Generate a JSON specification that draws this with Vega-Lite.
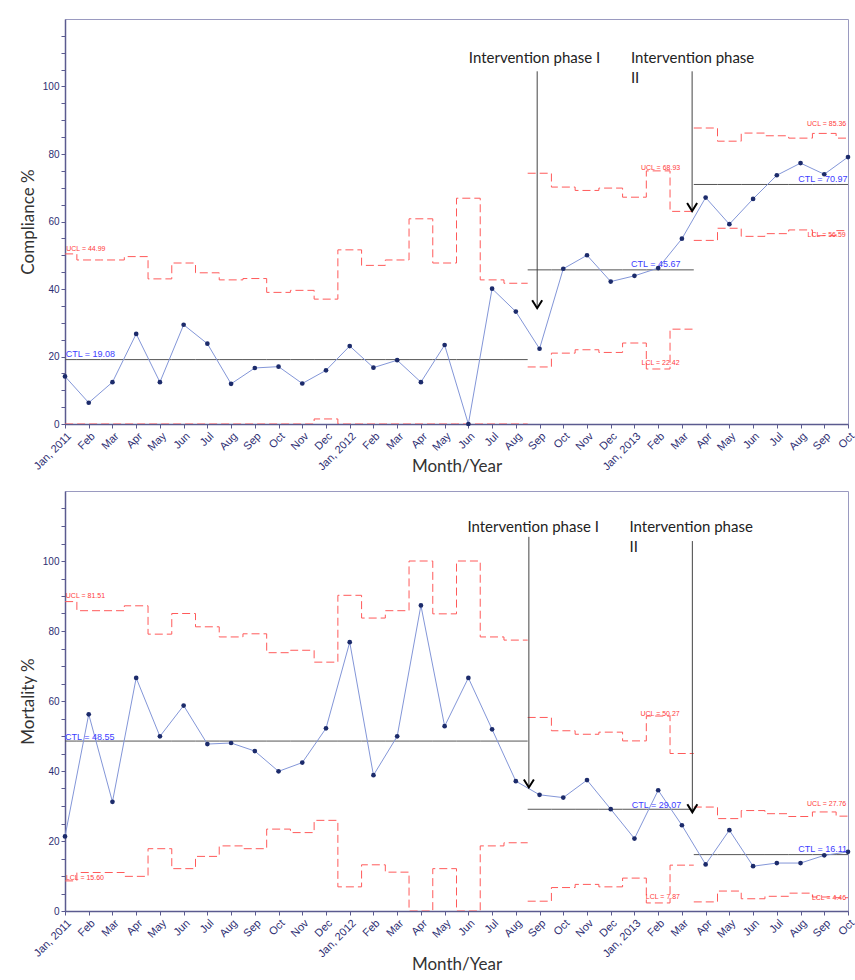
{
  "$schema": "https://vega.github.io/schema/vega-lite/v6.json",
  "padding": {"left": 18, "top": 18, "right": 4, "bottom": 2},
  "spacing": 14,
  "config": {
    "view": {"stroke": "#9a9ac0", "strokeWidth": 1},
    "axis": {
      "labelFont": "Liberation Sans",
      "labelColor": "#2e2e72",
      "domainColor": "#5b5b8f",
      "domainWidth": 1.5,
      "tickColor": "#5b5b8f",
      "titleFont": "Lato",
      "titleFontWeight": "normal",
      "titleColor": "#333333",
      "grid": false,
      "zindex": 1,
      "labelOverlap": false,
      "labelFlush": false
    }
  },
  "datasets": {
    "compliance": [
      {"i": 0, "month": "2011-01", "value": 14.1, "phase": "Baseline", "ucl": 50.4, "lcl": 0, "ctl": 19.08},
      {"i": 1, "month": "2011-02", "value": 6.3, "phase": "Baseline", "ucl": 48.6, "lcl": 0, "ctl": 19.08},
      {"i": 2, "month": "2011-03", "value": 12.4, "phase": "Baseline", "ucl": 48.6, "lcl": 0, "ctl": 19.08},
      {"i": 3, "month": "2011-04", "value": 26.7, "phase": "Baseline", "ucl": 49.6, "lcl": 0, "ctl": 19.08},
      {"i": 4, "month": "2011-05", "value": 12.4, "phase": "Baseline", "ucl": 43.0, "lcl": 0, "ctl": 19.08},
      {"i": 5, "month": "2011-06", "value": 29.4, "phase": "Baseline", "ucl": 47.7, "lcl": 0, "ctl": 19.08},
      {"i": 6, "month": "2011-07", "value": 23.8, "phase": "Baseline", "ucl": 44.8, "lcl": 0, "ctl": 19.08},
      {"i": 7, "month": "2011-08", "value": 11.9, "phase": "Baseline", "ucl": 42.7, "lcl": 0, "ctl": 19.08},
      {"i": 8, "month": "2011-09", "value": 16.6, "phase": "Baseline", "ucl": 43.1, "lcl": 0, "ctl": 19.08},
      {"i": 9, "month": "2011-10", "value": 17.0, "phase": "Baseline", "ucl": 39.0, "lcl": 0, "ctl": 19.08},
      {"i": 10, "month": "2011-11", "value": 12.0, "phase": "Baseline", "ucl": 39.6, "lcl": 0, "ctl": 19.08},
      {"i": 11, "month": "2011-12", "value": 15.9, "phase": "Baseline", "ucl": 37.0, "lcl": 1.5, "ctl": 19.08},
      {"i": 12, "month": "2012-01", "value": 23.1, "phase": "Baseline", "ucl": 51.6, "lcl": 0, "ctl": 19.08},
      {"i": 13, "month": "2012-02", "value": 16.7, "phase": "Baseline", "ucl": 47.0, "lcl": 0, "ctl": 19.08},
      {"i": 14, "month": "2012-03", "value": 18.9, "phase": "Baseline", "ucl": 48.6, "lcl": 0, "ctl": 19.08},
      {"i": 15, "month": "2012-04", "value": 12.4, "phase": "Baseline", "ucl": 60.8, "lcl": 0, "ctl": 19.08},
      {"i": 16, "month": "2012-05", "value": 23.4, "phase": "Baseline", "ucl": 47.7, "lcl": 0, "ctl": 19.08},
      {"i": 17, "month": "2012-06", "value": 0.0, "phase": "Baseline", "ucl": 66.9, "lcl": 0, "ctl": 19.08},
      {"i": 18, "month": "2012-07", "value": 40.1, "phase": "Baseline", "ucl": 42.7, "lcl": 0, "ctl": 19.08},
      {"i": 19, "month": "2012-08", "value": 33.3, "phase": "Baseline", "ucl": 41.7, "lcl": 0, "ctl": 19.08},
      {"i": 20, "month": "2012-09", "value": 22.3, "phase": "Phase I", "ucl": 74.3, "lcl": 16.9, "ctl": 45.67},
      {"i": 21, "month": "2012-10", "value": 46.0, "phase": "Phase I", "ucl": 70.2, "lcl": 21.0, "ctl": 45.67},
      {"i": 22, "month": "2012-11", "value": 50.0, "phase": "Phase I", "ucl": 69.2, "lcl": 22.0, "ctl": 45.67},
      {"i": 23, "month": "2012-12", "value": 42.2, "phase": "Phase I", "ucl": 69.9, "lcl": 21.2, "ctl": 45.67},
      {"i": 24, "month": "2013-01", "value": 43.9, "phase": "Phase I", "ucl": 67.2, "lcl": 24.0, "ctl": 45.67},
      {"i": 25, "month": "2013-02", "value": 46.2, "phase": "Phase I", "ucl": 75.0, "lcl": 16.3, "ctl": 45.67},
      {"i": 26, "month": "2013-03", "value": 54.9, "phase": "Phase I", "ucl": 63.0, "lcl": 28.1, "ctl": 45.67},
      {"i": 27, "month": "2013-04", "value": 67.1, "phase": "Phase II", "ucl": 87.7, "lcl": 54.4, "ctl": 70.97},
      {"i": 28, "month": "2013-05", "value": 59.2, "phase": "Phase II", "ucl": 83.8, "lcl": 58.0, "ctl": 70.97},
      {"i": 29, "month": "2013-06", "value": 66.7, "phase": "Phase II", "ucl": 86.2, "lcl": 55.6, "ctl": 70.97},
      {"i": 30, "month": "2013-07", "value": 73.7, "phase": "Phase II", "ucl": 85.4, "lcl": 56.4, "ctl": 70.97},
      {"i": 31, "month": "2013-08", "value": 77.3, "phase": "Phase II", "ucl": 84.7, "lcl": 57.5, "ctl": 70.97},
      {"i": 32, "month": "2013-09", "value": 74.0, "phase": "Phase II", "ucl": 86.1, "lcl": 55.8, "ctl": 70.97},
      {"i": 33, "month": "2013-10", "value": 79.1, "phase": "Phase II", "ucl": 84.7, "lcl": 57.3, "ctl": 70.97}
    ],
    "mortality": [
      {"i": 0, "month": "2011-01", "value": 21.3, "phase": "Baseline", "ucl": 88.4, "lcl": 8.6, "ctl": 48.55},
      {"i": 1, "month": "2011-02", "value": 56.2, "phase": "Baseline", "ucl": 85.8, "lcl": 11.0, "ctl": 48.55},
      {"i": 2, "month": "2011-03", "value": 31.2, "phase": "Baseline", "ucl": 85.8, "lcl": 11.0, "ctl": 48.55},
      {"i": 3, "month": "2011-04", "value": 66.6, "phase": "Baseline", "ucl": 87.2, "lcl": 9.9, "ctl": 48.55},
      {"i": 4, "month": "2011-05", "value": 49.9, "phase": "Baseline", "ucl": 79.1, "lcl": 17.8, "ctl": 48.55},
      {"i": 5, "month": "2011-06", "value": 58.7, "phase": "Baseline", "ucl": 85.0, "lcl": 12.1, "ctl": 48.55},
      {"i": 6, "month": "2011-07", "value": 47.7, "phase": "Baseline", "ucl": 81.2, "lcl": 15.6, "ctl": 48.55},
      {"i": 7, "month": "2011-08", "value": 48.0, "phase": "Baseline", "ucl": 78.3, "lcl": 18.6, "ctl": 48.55},
      {"i": 8, "month": "2011-09", "value": 45.7, "phase": "Baseline", "ucl": 79.2, "lcl": 17.8, "ctl": 48.55},
      {"i": 9, "month": "2011-10", "value": 39.9, "phase": "Baseline", "ucl": 73.8, "lcl": 23.4, "ctl": 48.55},
      {"i": 10, "month": "2011-11", "value": 42.4, "phase": "Baseline", "ucl": 74.5, "lcl": 22.4, "ctl": 48.55},
      {"i": 11, "month": "2011-12", "value": 52.2, "phase": "Baseline", "ucl": 71.1, "lcl": 25.9, "ctl": 48.55},
      {"i": 12, "month": "2012-01", "value": 76.8, "phase": "Baseline", "ucl": 90.2, "lcl": 6.9, "ctl": 48.55},
      {"i": 13, "month": "2012-02", "value": 38.8, "phase": "Baseline", "ucl": 83.7, "lcl": 13.2, "ctl": 48.55},
      {"i": 14, "month": "2012-03", "value": 49.9, "phase": "Baseline", "ucl": 85.8, "lcl": 11.1, "ctl": 48.55},
      {"i": 15, "month": "2012-04", "value": 87.3, "phase": "Baseline", "ucl": 100, "lcl": 0, "ctl": 48.55},
      {"i": 16, "month": "2012-05", "value": 52.8, "phase": "Baseline", "ucl": 84.9, "lcl": 12.1, "ctl": 48.55},
      {"i": 17, "month": "2012-06", "value": 66.6, "phase": "Baseline", "ucl": 100, "lcl": 0, "ctl": 48.55},
      {"i": 18, "month": "2012-07", "value": 51.9, "phase": "Baseline", "ucl": 78.3, "lcl": 18.6, "ctl": 48.55},
      {"i": 19, "month": "2012-08", "value": 37.1, "phase": "Baseline", "ucl": 77.4, "lcl": 19.5, "ctl": 48.55},
      {"i": 20, "month": "2012-09", "value": 33.2, "phase": "Phase I", "ucl": 55.3, "lcl": 2.8, "ctl": 29.07},
      {"i": 21, "month": "2012-10", "value": 32.4, "phase": "Phase I", "ucl": 51.5, "lcl": 6.7, "ctl": 29.07},
      {"i": 22, "month": "2012-11", "value": 37.4, "phase": "Phase I", "ucl": 50.5, "lcl": 7.6, "ctl": 29.07},
      {"i": 23, "month": "2012-12", "value": 29.1, "phase": "Phase I", "ucl": 51.1, "lcl": 6.9, "ctl": 29.07},
      {"i": 24, "month": "2013-01", "value": 20.7, "phase": "Phase I", "ucl": 48.6, "lcl": 9.4, "ctl": 29.07},
      {"i": 25, "month": "2013-02", "value": 34.5, "phase": "Phase I", "ucl": 55.7, "lcl": 2.3, "ctl": 29.07},
      {"i": 26, "month": "2013-03", "value": 24.5, "phase": "Phase I", "ucl": 45.0, "lcl": 13.1, "ctl": 29.07},
      {"i": 27, "month": "2013-04", "value": 13.3, "phase": "Phase II", "ucl": 29.7, "lcl": 2.6, "ctl": 16.11},
      {"i": 28, "month": "2013-05", "value": 23.1, "phase": "Phase II", "ucl": 26.4, "lcl": 5.7, "ctl": 16.11},
      {"i": 29, "month": "2013-06", "value": 12.8, "phase": "Phase II", "ucl": 28.7, "lcl": 3.5, "ctl": 16.11},
      {"i": 30, "month": "2013-07", "value": 13.7, "phase": "Phase II", "ucl": 27.8, "lcl": 4.2, "ctl": 16.11},
      {"i": 31, "month": "2013-08", "value": 13.7, "phase": "Phase II", "ucl": 27.0, "lcl": 5.1, "ctl": 16.11},
      {"i": 32, "month": "2013-09", "value": 15.9, "phase": "Phase II", "ucl": 28.3, "lcl": 4.0, "ctl": 16.11},
      {"i": 33, "month": "2013-10", "value": 16.9, "phase": "Phase II", "ucl": 27.1, "lcl": 3.8, "ctl": 16.11}
    ],
    "labelsTop": [
      {"x": 0.88, "y": 51.9, "text": "UCL = 44.99", "kind": "limit"},
      {"x": 25.1, "y": 75.9, "text": "UCL = 68.93", "kind": "limit"},
      {"x": 25.1, "y": 18.2, "text": "LCL = 22.42", "kind": "limit"},
      {"x": 32.1, "y": 88.9, "text": "UCL = 85.36", "kind": "limit"},
      {"x": 32.1, "y": 55.9, "text": "LCL = 56.59", "kind": "limit"},
      {"x": 1.07, "y": 20.6, "text": "CTL = 19.08", "kind": "ctl"},
      {"x": 24.9, "y": 47.5, "text": "CTL = 45.67", "kind": "ctl"},
      {"x": 31.94, "y": 72.5, "text": "CTL = 70.97", "kind": "ctl"},
      {"x": 17.02, "y": 108.4, "text": "Intervention phase I", "kind": "note"},
      {"x": 23.85, "y": 108.4, "text": "Intervention phase", "kind": "note"},
      {"x": 23.85, "y": 102.5, "text": "II", "kind": "note"}
    ],
    "labelsBottom": [
      {"x": 0.86, "y": 89.9, "text": "UCL = 81.51", "kind": "limit"},
      {"x": 0.84, "y": 9.5, "text": "LCL = 15.60", "kind": "limit"},
      {"x": 25.08, "y": 56.4, "text": "UCL = 50.27", "kind": "limit"},
      {"x": 25.2, "y": 3.9, "text": "LCL = 7.87", "kind": "limit"},
      {"x": 32.1, "y": 30.7, "text": "UCL = 27.76", "kind": "limit"},
      {"x": 32.2, "y": 3.7, "text": "LCL = 4.46", "kind": "limit"},
      {"x": 1.04, "y": 49.7, "text": "CTL = 48.55", "kind": "ctl"},
      {"x": 24.93, "y": 30.4, "text": "CTL = 29.07", "kind": "ctl"},
      {"x": 31.93, "y": 17.6, "text": "CTL = 16.11", "kind": "ctl"},
      {"x": 16.96, "y": 109.6, "text": "Intervention phase I", "kind": "note"},
      {"x": 23.79, "y": 109.6, "text": "Intervention phase", "kind": "note"},
      {"x": 23.79, "y": 104.0, "text": "II", "kind": "note"}
    ],
    "arrowsTop": [
      {"x": 19.9, "top": 104.5, "tip": 34.3},
      {"x": 26.43, "top": 104.5, "tip": 63.1}
    ],
    "arrowsBottom": [
      {"x": 19.55, "top": 106.9, "tip": 35.3},
      {"x": 26.44, "top": 105.7, "tip": 28.2}
    ]
  },
  "vconcat": [
    {
      "width": 783,
      "height": 405,
      "layer": [
        {
          "data": {"name": "compliance"},
          "transform": [
            {"bin": {"step": 1, "anchor": -0.5, "extent": [-1, 34]}, "field": "i", "as": ["i0", "i1"]},
            {"fold": ["i0", "i1"], "as": ["edge", "xpos"]},
            {"fold": ["ucl", "lcl"], "as": ["limit", "lv"]}
          ],
          "mark": {"type": "line", "color": "#ff5a5a", "strokeDash": [8, 4], "strokeWidth": 1, "clip": true},
          "encoding": {
            "x": {"field": "xpos", "type": "quantitative", "scale": {"domain": [0, 33], "nice": false, "zero": false},
              "axis": {"values": [0,1,2,3,4,5,6,7,8,9,10,11,12,13,14,15,16,17,18,19,20,21,22,23,24,25,26,27,28,29,30,31,32,33],
                "tickCount": 60,
                "labelExpr": "['Jan','Feb','Mar','Apr','May','Jun','Jul','Aug','Sep','Oct','Nov','Dec'][datum.value % 12] + (datum.value % 12 == 0 ? ', ' + (2011 + floor(datum.value / 12)) : '')",
                "labelOverlap": false, "labelAngle": -45, "labelFontSize": 11, "tickSize": 4, "title": "Month/Year", "titleFontSize": 17, "titlePadding": -13}},
            "y": {"field": "lv", "type": "quantitative", "scale": {"domain": [0, 120], "nice": false},
              "axis": {"values": [0,5,10,15,20,25,30,35,40,45,50,55,60,65,70,75,80,85,90,95,100,105,110,115],
                "tickCount": 60,
                "labelExpr": "datum.value % 20 == 0 && datum.value <= 100 ? datum.value : ''",
                "labelOverlap": false, "labelFontSize": 10, "tickSize": 4, "labelPadding": 2, "title": "Compliance %", "titleFontSize": 17, "titlePadding": 5}},
            "detail": [{"field": "phase", "type": "nominal"}, {"field": "limit", "type": "nominal"}],
            "order": [{"field": "xpos", "type": "quantitative"}, {"field": "i", "type": "quantitative"}]
          }
        },
        {
          "data": {"name": "compliance"},
          "transform": [
            {"bin": {"step": 1, "anchor": -0.5, "extent": [-1, 34]}, "field": "i", "as": ["i0", "i1"]},
            {"fold": ["i0", "i1"], "as": ["edge", "xpos"]}
          ],
          "mark": {"type": "line", "color": "#555555", "strokeWidth": 1, "clip": true},
          "encoding": {
            "x": {"field": "xpos", "type": "quantitative"},
            "y": {"field": "ctl", "type": "quantitative"},
            "detail": {"field": "phase", "type": "nominal"},
            "order": [{"field": "xpos", "type": "quantitative"}, {"field": "i", "type": "quantitative"}]
          }
        },
        {
          "data": {"name": "compliance"},
          "mark": {"type": "line", "color": "#8396d8", "strokeWidth": 1},
          "encoding": {
            "x": {"field": "i", "type": "quantitative"},
            "y": {"field": "value", "type": "quantitative"}
          }
        },
        {
          "data": {"name": "compliance"},
          "mark": {"type": "point", "filled": true, "color": "#1c2b6b", "size": 22, "opacity": 1},
          "encoding": {
            "x": {"field": "i", "type": "quantitative"},
            "y": {"field": "value", "type": "quantitative"}
          }
        },
        {
          "data": {"name": "arrowsTop"},
          "mark": {"type": "rule", "color": "#444444", "strokeWidth": 1},
          "encoding": {
            "x": {"field": "x", "type": "quantitative"},
            "y": {"field": "top", "type": "quantitative"},
            "y2": {"field": "tip"}
          }
        },
        {
          "data": {"name": "arrowsTop"},
          "mark": {"type": "point", "shape": "M-1,-1.6L0,0L1,-1.6", "filled": false, "color": "#000000", "strokeWidth": 2, "size": 100, "opacity": 1},
          "encoding": {
            "x": {"field": "x", "type": "quantitative"},
            "y": {"field": "tip", "type": "quantitative"}
          }
        },
        {
          "data": {"name": "labelsTop"},
          "transform": [{"filter": "datum.kind == 'limit'"}],
          "mark": {"type": "text", "font": "Liberation Sans", "fontSize": 7, "color": "#ff3b3b", "align": "center", "baseline": "middle"},
          "encoding": {
            "x": {"field": "x", "type": "quantitative"},
            "y": {"field": "y", "type": "quantitative"},
            "text": {"field": "text"}
          }
        },
        {
          "data": {"name": "labelsTop"},
          "transform": [{"filter": "datum.kind == 'ctl'"}],
          "mark": {"type": "text", "font": "Liberation Sans", "fontSize": 9, "color": "#3d3dff", "align": "center", "baseline": "middle"},
          "encoding": {
            "x": {"field": "x", "type": "quantitative"},
            "y": {"field": "y", "type": "quantitative"},
            "text": {"field": "text"}
          }
        },
        {
          "data": {"name": "labelsTop"},
          "transform": [{"filter": "datum.kind == 'note'"}],
          "mark": {"type": "text", "font": "Lato", "fontSize": 15, "color": "#222222", "align": "left", "baseline": "middle"},
          "encoding": {
            "x": {"field": "x", "type": "quantitative"},
            "y": {"field": "y", "type": "quantitative"},
            "text": {"field": "text"}
          }
        }
      ]
    },
    {
      "width": 783,
      "height": 420,
      "layer": [
        {
          "data": {"name": "mortality"},
          "transform": [
            {"bin": {"step": 1, "anchor": -0.5, "extent": [-1, 34]}, "field": "i", "as": ["i0", "i1"]},
            {"fold": ["i0", "i1"], "as": ["edge", "xpos"]},
            {"fold": ["ucl", "lcl"], "as": ["limit", "lv"]}
          ],
          "mark": {"type": "line", "color": "#ff5a5a", "strokeDash": [8, 4], "strokeWidth": 1, "clip": true},
          "encoding": {
            "x": {"field": "xpos", "type": "quantitative", "scale": {"domain": [0, 33], "nice": false, "zero": false},
              "axis": {"values": [0,1,2,3,4,5,6,7,8,9,10,11,12,13,14,15,16,17,18,19,20,21,22,23,24,25,26,27,28,29,30,31,32,33],
                "tickCount": 60,
                "labelExpr": "['Jan','Feb','Mar','Apr','May','Jun','Jul','Aug','Sep','Oct','Nov','Dec'][datum.value % 12] + (datum.value % 12 == 0 ? ', ' + (2011 + floor(datum.value / 12)) : '')",
                "labelOverlap": false, "labelAngle": -45, "labelFontSize": 11, "tickSize": 4, "title": "Month/Year", "titleFontSize": 17, "titlePadding": -2}},
            "y": {"field": "lv", "type": "quantitative", "scale": {"domain": [0, 120], "nice": false},
              "axis": {"values": [0,5,10,15,20,25,30,35,40,45,50,55,60,65,70,75,80,85,90,95,100,105,110,115],
                "tickCount": 60,
                "labelExpr": "datum.value % 20 == 0 && datum.value <= 100 ? datum.value : ''",
                "labelOverlap": false, "labelFontSize": 10, "tickSize": 4, "labelPadding": 2, "title": "Mortality %", "titleFontSize": 17, "titlePadding": 5}},
            "detail": [{"field": "phase", "type": "nominal"}, {"field": "limit", "type": "nominal"}],
            "order": [{"field": "xpos", "type": "quantitative"}, {"field": "i", "type": "quantitative"}]
          }
        },
        {
          "data": {"name": "mortality"},
          "transform": [
            {"bin": {"step": 1, "anchor": -0.5, "extent": [-1, 34]}, "field": "i", "as": ["i0", "i1"]},
            {"fold": ["i0", "i1"], "as": ["edge", "xpos"]}
          ],
          "mark": {"type": "line", "color": "#555555", "strokeWidth": 1, "clip": true},
          "encoding": {
            "x": {"field": "xpos", "type": "quantitative"},
            "y": {"field": "ctl", "type": "quantitative"},
            "detail": {"field": "phase", "type": "nominal"},
            "order": [{"field": "xpos", "type": "quantitative"}, {"field": "i", "type": "quantitative"}]
          }
        },
        {
          "data": {"name": "mortality"},
          "mark": {"type": "line", "color": "#8396d8", "strokeWidth": 1},
          "encoding": {
            "x": {"field": "i", "type": "quantitative"},
            "y": {"field": "value", "type": "quantitative"}
          }
        },
        {
          "data": {"name": "mortality"},
          "mark": {"type": "point", "filled": true, "color": "#1c2b6b", "size": 22, "opacity": 1},
          "encoding": {
            "x": {"field": "i", "type": "quantitative"},
            "y": {"field": "value", "type": "quantitative"}
          }
        },
        {
          "data": {"name": "arrowsBottom"},
          "mark": {"type": "rule", "color": "#444444", "strokeWidth": 1},
          "encoding": {
            "x": {"field": "x", "type": "quantitative"},
            "y": {"field": "top", "type": "quantitative"},
            "y2": {"field": "tip"}
          }
        },
        {
          "data": {"name": "arrowsBottom"},
          "mark": {"type": "point", "shape": "M-1,-1.6L0,0L1,-1.6", "filled": false, "color": "#000000", "strokeWidth": 2, "size": 100, "opacity": 1},
          "encoding": {
            "x": {"field": "x", "type": "quantitative"},
            "y": {"field": "tip", "type": "quantitative"}
          }
        },
        {
          "data": {"name": "labelsBottom"},
          "transform": [{"filter": "datum.kind == 'limit'"}],
          "mark": {"type": "text", "font": "Liberation Sans", "fontSize": 7, "color": "#ff3b3b", "align": "center", "baseline": "middle"},
          "encoding": {
            "x": {"field": "x", "type": "quantitative"},
            "y": {"field": "y", "type": "quantitative"},
            "text": {"field": "text"}
          }
        },
        {
          "data": {"name": "labelsBottom"},
          "transform": [{"filter": "datum.kind == 'ctl'"}],
          "mark": {"type": "text", "font": "Liberation Sans", "fontSize": 9, "color": "#3d3dff", "align": "center", "baseline": "middle"},
          "encoding": {
            "x": {"field": "x", "type": "quantitative"},
            "y": {"field": "y", "type": "quantitative"},
            "text": {"field": "text"}
          }
        },
        {
          "data": {"name": "labelsBottom"},
          "transform": [{"filter": "datum.kind == 'note'"}],
          "mark": {"type": "text", "font": "Lato", "fontSize": 15, "color": "#222222", "align": "left", "baseline": "middle"},
          "encoding": {
            "x": {"field": "x", "type": "quantitative"},
            "y": {"field": "y", "type": "quantitative"},
            "text": {"field": "text"}
          }
        }
      ]
    }
  ]
}
